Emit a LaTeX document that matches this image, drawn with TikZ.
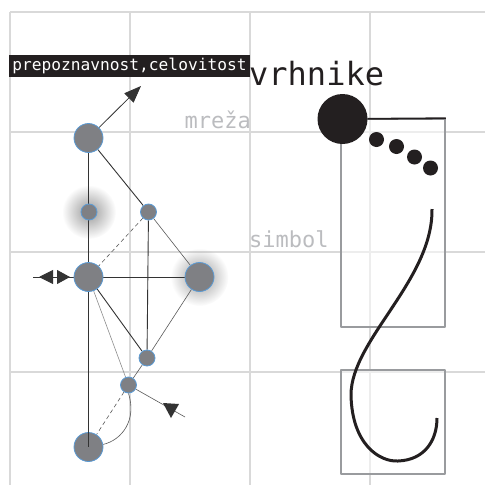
\documentclass[tikz,border=0pt]{standalone}
\usepackage{fontspec}
\setmonofont{DejaVu Sans Mono}
\usetikzlibrary{%
  arrows.meta,%
  backgrounds,%
  fadings
}
\definecolor{ink}{HTML}{231F20}
\definecolor{vgray}{HTML}{7F8084}
\definecolor{vblue}{HTML}{5B9BD5}
\definecolor{gridgray}{HTML}{D9D9D9}
\definecolor{boxgray}{HTML}{999B9E}
\definecolor{labelgray}{HTML}{BBBCBF}
\tikzfading[name=glowfade, inner color=transparent!0, outer color=transparent!100]

\begin{document}
\begin{tikzpicture}[
    x=1pt,y=-1pt,
    line join=round,
    gridline/.style={draw=gridgray,line width=1.3pt},
    vertex/.style={circle,fill=vgray,draw=vblue,line width=0.8pt,
        inner sep=0pt,minimum size=29pt},
    small vertex/.style={vertex,minimum size=16pt},
    edge/.style={draw=black!80,line width=0.9pt},
    thin edge/.style={draw=black!65,line width=0.6pt},
    faint edge/.style={draw=black!45,line width=0.6pt},
    dashed edge/.style={thin edge,dash pattern=on 4pt off 3pt},
    glow/.style={fill=black!40,path fading=glowfade},
    frame/.style={draw=boxgray,line width=1.5pt,fill=white,fill opacity=0.55,
        inner sep=0pt},
    dot/.style={circle,fill=ink,inner sep=0pt,minimum size=15pt},
    caption/.style={inner sep=0pt,font=\ttfamily\fontsize{22}{26}\selectfont,
        text=labelgray}
  ]
    \useasboundingbox (0,0) rectangle (485,485);

    % network
    \node [vertex]       (top)    at (88.5,138)  {};
    \node [small vertex] (glowl)  at (89,212)    {};
    \node [small vertex] (upper)  at (148.5,212) {};
    \node [vertex]       (mid)    at (88.5,277)  {};
    \node [vertex]       (glowr)  at (199.5,277) {};
    \node [small vertex] (lower)  at (147,358)   {};
    \node [small vertex] (knot)   at (128.5,385) {};
    \node [vertex]       (bottom) at (88.5,447)  {};

    \coordinate (top out)  at (141,86);
    \coordinate (knot out) at (185,417);
    \coordinate (left end) at (33,277);
    \coordinate (tip l)    at (39,277);
    \coordinate (tip r)    at (70,277);

    \begin{pgfonlayer}{background}
        \foreach \x in {10,130,250,370}
            \draw [gridline] (\x,12) -- (\x,485);
        \foreach \y in {12,132,252,372}
            \draw [gridline] (10,\y) -- (485,\y);

        \fill [glow] (glowl) circle [radius=27pt];
        \fill [glow] (glowr) circle [radius=29pt];

        \draw [edge]        (top)   -- (mid);
        \draw [edge]        (top)   -- (upper);
        \draw [thin edge]   (upper) -- (glowr);
        \draw [dashed edge] (upper) -- (mid);
        \draw [edge]        (upper) -- (lower);
        \draw [edge]        (mid)   -- (glowr);
        \draw [thin edge]   (glowr) -- (lower);
        \draw [edge]        (mid)   -- (lower);
        \draw [faint edge]  (mid)   -- (knot);
        \draw [thin edge]   (lower) -- (knot);
        \draw [dashed edge] (knot)  -- (bottom);
        \draw [thin edge]   (knot.south) .. controls (137,420) and (122,440) .. (bottom.10);
        \draw [thin edge]   (knot)  -- (knot out);
        \draw [edge,line width=0.8pt,-{Triangle[length=17pt,width=13pt]}] (top) -- (top out);
        \draw [edge]        (left end) -- (mid);
        \draw [edge,fill=black!80,{Triangle[length=14pt,width=14pt]}-{Triangle[length=13pt,width=14pt]}]
            (tip l) -- (tip r);
    \end{pgfonlayer}

    \draw [edge] (mid) -- (bottom.center);
    \fill [black!80] (163,403) -- (179,404) -- (171,418) -- cycle;

    % labels
    \node [fill=ink,text=white,minimum width=241pt,minimum height=22pt,inner sep=0pt,
        text height=12pt,text depth=3pt,
        font=\ttfamily\fontsize{16.2}{18}\selectfont] (tag) at (129.5,65.5)
        {prepoznavnost,celovitost};
    \node [anchor=base west,inner sep=0pt,font=\ttfamily\fontsize{32}{36}\selectfont,
        text=ink] (title) at (249,85) {vrhnike};
    \node [caption,anchor=base east] (net)  at (251,128) {mreža};
    \node [caption,anchor=base west] (sym)  at (249,247) {simbol};

    % symbol
    \node [frame,minimum width=104pt,minimum height=208pt] (upbox)  at (393,223) {};
    \node [frame,minimum width=104pt,minimum height=104pt] (lowbox) at (393,422) {};
    \node [circle,fill=ink,inner sep=0pt,minimum size=50pt] (head) at (342.5,119) {};
    \draw [ink,line width=1.8pt] (head) -- (upbox.north east);
    \foreach \x/\y [count=\i] in {376.5/139.5,396.5/146.5,414.5/157,430.5/168}
        \node [dot] (dot\i) at (\x,\y) {};
    \draw [ink,line width=3pt]
        (432,209) .. controls (433,280) and (351,340) .. (351,395)
                  .. controls (352,445) and (380,462) .. (398,461)
                  .. controls (425,460) and (437,440) .. (437,418);
\end{tikzpicture}
\end{document}
